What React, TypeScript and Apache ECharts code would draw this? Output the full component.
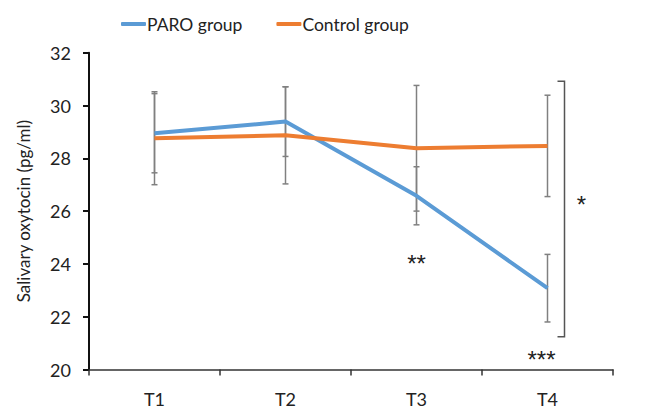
import React, { useEffect, useRef } from "react";
import * as echarts from "echarts";

const categories = ["T1", "T2", "T3", "T4"];
const paroMean = [28.95, 29.39, 26.58, 23.08];
const paroErr = [1.5, 1.32, 1.1, 1.28];
const controlMean = [28.76, 28.87, 28.38, 28.47];
const controlErr = [1.76, 1.84, 2.38, 1.92];
const yTicks = { min: 20, max: 32, interval: 2 };
// significance annotations: [categoryIndex, value, text, pixelOffsetX]
const starNotes: [number, number, string, number][] = [
  [2, 24.27, "**", 0],
  [3, 20.66, "***", -6],
  [3, 26.5, "*", 34],
];
// bracket spanning T4: [categoryIndex, low, high]
const bracket: [number, number, number][] = [[3, 21.24, 30.92]];

const FONT = "Lato, 'Open Sans', sans-serif";

export default function App() {
  const ref = useRef<HTMLDivElement>(null);
  useEffect(() => {
    if (!ref.current) return;
    const chart = echarts.init(ref.current, undefined, { renderer: "svg" });

    const errData: number[][] = [];
    paroMean.forEach((m, i) => errData.push([i, m - paroErr[i], m + paroErr[i]]));
    controlMean.forEach((m, i) => errData.push([i, m - controlErr[i], m + controlErr[i]]));

    const errStyle = { stroke: "#808080", lineWidth: 1.5 };

    chart.setOption({
      animation: false,
      textStyle: { fontFamily: FONT },
      legend: {
        data: ["PARO group", "Control group"],
        top: 10,
        left: 116,
        icon: "roundRect",
        itemWidth: 25,
        itemHeight: 4,
        itemGap: 34,
        textStyle: { fontSize: 17.5, color: "#222", fontFamily: FONT, padding: [0, 0, 0, -4] },
      },
      grid: { left: 89, right: 32, top: 52.7, bottom: 40.5, containLabel: false },
      xAxis: {
        type: "category",
        data: categories,
        boundaryGap: true,
        axisLine: { lineStyle: { color: "#333", width: 1.5 } },
        axisTick: { show: true, length: 6, lineStyle: { color: "#333", width: 1.5 } },
        axisLabel: { fontSize: 18, color: "#222", margin: 20, fontFamily: FONT },
        splitLine: { show: false },
      },
      yAxis: {
        type: "value",
        min: yTicks.min,
        max: yTicks.max,
        interval: yTicks.interval,
        name: "Salivary oxytocin (pg/ml)",
        nameLocation: "middle",
        nameGap: 57,
        nameTextStyle: { fontSize: 17, color: "#222", fontFamily: FONT },
        axisLine: { show: true, lineStyle: { color: "#111", width: 2 } },
        axisTick: { show: true, length: 6, lineStyle: { color: "#111", width: 2 } },
        axisLabel: { fontSize: 18, color: "#222", margin: 18, fontFamily: FONT },
        splitLine: { show: false },
      },
      series: [
        {
          name: "errorbars",
          type: "custom",
          z: 1,
          data: errData,
          renderItem: (params: any, api: any) => {
            const x = api.value(0);
            const lo = api.coord([x, api.value(1)]);
            const hi = api.coord([x, api.value(2)]);
            const w = 3;
            return {
              type: "group",
              children: [
                { type: "line", shape: { x1: lo[0], y1: lo[1], x2: hi[0], y2: hi[1] }, style: errStyle },
                { type: "line", shape: { x1: lo[0] - w, y1: lo[1], x2: lo[0] + w, y2: lo[1] }, style: errStyle },
                { type: "line", shape: { x1: hi[0] - w, y1: hi[1], x2: hi[0] + w, y2: hi[1] }, style: errStyle },
              ],
            };
          },
        },
        {
          name: "PARO group",
          type: "line",
          z: 2,
          data: paroMean,
          symbol: "none",
          itemStyle: { color: "#5B9BD5" },
          lineStyle: { color: "#5B9BD5", width: 4 },
        },
        {
          name: "Control group",
          type: "line",
          z: 3,
          data: controlMean,
          symbol: "none",
          itemStyle: { color: "#ED7D31" },
          lineStyle: { color: "#ED7D31", width: 4 },
        },
        {
          name: "bracket",
          type: "custom",
          z: 4,
          data: bracket,
          renderItem: (params: any, api: any) => {
            const x = api.value(0);
            const lo = api.coord([x, api.value(1)]);
            const hi = api.coord([x, api.value(2)]);
            const bx = lo[0] + 17;
            return {
              type: "polyline",
              shape: {
                points: [
                  [bx - 7, hi[1]],
                  [bx, hi[1]],
                  [bx, lo[1]],
                  [bx - 7, lo[1]],
                ],
              },
              style: { stroke: "#555", lineWidth: 1.5, fill: "none" },
            };
          },
        },
        {
          name: "stars",
          type: "custom",
          z: 5,
          data: starNotes,
          renderItem: (params: any, api: any) => {
            const p = api.coord([api.value(0), api.value(1)]);
            const note = starNotes[params.dataIndex];
            return {
              type: "text",
              x: p[0] + note[3],
              y: p[1] + 7,
              style: {
                text: note[2],
                fontSize: 24,
                fontWeight: "normal",
                fontFamily: "'Liberation Sans', Arial, sans-serif",
                fill: "#222",
                align: "center",
                verticalAlign: "middle",
              },
            };
          },
        },
      ],
    });
    return () => chart.dispose();
  }, []);
  return <div ref={ref} style={{ width: 645, height: 410, position: "absolute", left: 0, top: 0 }} />;
}
